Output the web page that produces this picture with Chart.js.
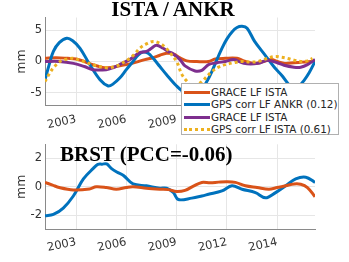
<!DOCTYPE html>
<html>
<head>
<meta charset="utf-8">
<script src="https://cdn.jsdelivr.net/npm/chart.js@4/dist/chart.umd.min.js"></script>
<style>
  html, body { margin: 0; padding: 0; background: #fff; }
  #wrap { position: relative; width: 349px; height: 262px; overflow: hidden; }
  canvas { position: absolute; left: 0; }
  #c-top { top: 0; }
  #c-bot { top: 131px; }
  .ttl {
    position: absolute; font-family: 'Liberation Serif', serif; font-weight: bold;
    font-size: 21px; line-height: 21px; color: #000; white-space: nowrap;
  }
  #ttl-top { top: -1.5px; left: 0; width: 346px; text-align: center; }
  #ttl-bot { top: 143.5px; left: 60px; }
  #legend {
    position: absolute; left: 181px; top: 83px; width: 158px; height: 52px;
    background: #fff; border: 1px solid #b0b0b0; box-sizing: border-box;
    font-family: 'DejaVu Sans', sans-serif; font-size: 10.4px; color: #262626;
    padding-top: 2px;
  }
  .lg-row { position: relative; height: 12.3px; line-height: 12.3px; white-space: nowrap; }
  .lg-line { position: absolute; left: 2px; top: 5px; width: 26px; height: 0; border-top: 3px solid; }
  .lg-text { position: absolute; left: 29px; top: 0; }
</style>
</head>
<body>
<div id="wrap">
  <canvas id="c-top" width="349" height="131"></canvas>
  <canvas id="c-bot" width="349" height="131"></canvas>
  <div class="ttl" id="ttl-top">ISTA / ANKR</div>
  <div class="ttl" id="ttl-bot">BRST (PCC=-0.06)</div>
  <div id="legend"></div>
</div>
<script>
'use strict';

// ── Data ───────────────────────────────────────────────────────
const X_TICKS       = [2003, 2006, 2009, 2012, 2015];
const X_TICK_LABELS = ['2003', '2006', '2009', '2012', '2014'];

// top panel: ISTA / ANKR
const graceIstaYears = [2001.15, 2001.8, 2002.5, 2003.0, 2003.5, 2004.0, 2004.5, 2004.9, 2005.4, 2006.0,
  2006.6, 2007.1, 2007.6, 2008.0, 2008.4, 2008.8, 2009.2, 2009.6, 2010.2, 2010.9, 2011.3, 2011.9,
  2012.6, 2013.0, 2013.65, 2014.2, 2014.65, 2015.0, 2015.45, 2016.0, 2016.5, 2017.0, 2017.25];
const graceIsta = [0.5, 0.6, 0.5, 0.4, 0.0, -0.5, -0.9, -1.0, -0.8, -0.5,
  -0.1, 0.3, 0.6, 1.0, 1.3, 1.2, 0.6, 0.1, 0.0, 0.0, 0.4, 0.5,
  0.5, 0.1, -0.3, 0.0, 0.3, 0.0, -0.3, -0.2, -0.1, 0.0, 0.1];

const gpsAnkrYears = [2001.15, 2001.4, 2001.65, 2002.0, 2002.45, 2002.8, 2003.24, 2003.8, 2004.43, 2004.92,
  2005.2, 2005.62, 2006.0, 2006.4, 2006.7, 2007.0, 2007.3, 2007.6, 2008.0, 2008.4, 2009.0, 2009.5,
  2010.0, 2010.4, 2010.8, 2011.1, 2011.4, 2011.7, 2012.0, 2012.3, 2012.6, 2012.9, 2013.2, 2013.65,
  2014.25, 2014.85, 2015.3, 2015.7, 2016.0, 2016.3, 2016.6, 2016.9, 2017.25];
const gpsAnkr = [-2.9, -0.5, 1.6, 3.0, 3.7, 3.3, 2.1, -0.4, -2.9, -3.9,
  -3.6, -2.6, -1.3, 0.0, 1.0, 1.5, 1.3, 0.5, -0.8, -2.1, -3.9, -5.0,
  -5.4, -4.8, -3.2, -1.6, 0.3, 2.1, 3.6, 4.7, 5.4, 5.6, 5.3, 3.2,
  1.1, -1.0, -2.3, -3.7, -4.4, -3.9, -3.0, -1.8, 0.0];

const graceIsta2Years = [2001.15, 2002.0, 2002.85, 2003.5, 2004.0, 2004.8, 2005.2, 2005.6, 2006.2, 2006.8,
  2007.2, 2007.5, 2007.8, 2008.2, 2008.5, 2008.8, 2009.2, 2009.5, 2010.1, 2010.5, 2010.9, 2011.4,
  2011.9, 2012.4, 2013.0, 2013.85, 2014.4, 2015.0, 2015.4, 2016.0, 2016.4, 2016.8, 2017.25];
const graceIsta2 = [0.0, 0.0, -0.3, -0.8, -1.3, -1.3, -1.0, -0.5, 0.3, 1.4,
  1.6, 2.1, 2.6, 2.1, 1.6, 1.2, 0.3, -0.7, -1.5, -1.4, -0.5, -0.2,
  0.0, 0.3, -0.3, -0.3, 0.2, -0.2, -0.6, -0.9, -0.9, -0.5, 0.3];

const gpsIstaYears = [2001.15, 2001.4, 2001.65, 2002.05, 2002.5, 2002.85, 2003.45, 2004.0, 2004.8, 2005.2,
  2005.6, 2006.2, 2006.5, 2006.8, 2007.2, 2007.6, 2008.0, 2008.3, 2008.6, 2009.0, 2009.3, 2009.6,
  2009.9, 2010.2, 2010.5, 2011.1, 2011.5, 2011.9, 2012.4, 2012.9, 2013.4, 2013.85, 2014.3, 2014.85,
  2015.2, 2015.6, 2016.0, 2016.4, 2016.8, 2017.1];
const gpsIsta = [-3.2, -2.0, -1.0, 0.0, 0.4, 0.5, 0.0, -0.5, -1.0, -0.9,
  -0.5, 0.5, 1.2, 2.1, 2.8, 3.2, 2.9, 2.3, 1.4, 0.0, -2.0, -3.1,
  -3.9, -3.7, -3.2, -1.6, -0.9, -0.5, -0.2, 0.0, -0.1, 0.0, 0.4, 0.8,
  0.7, 0.5, 0.2, 0.0, 0.1, 0.5];

// bottom panel: BRST
const gpsBrstYears = [2001.15, 2001.65, 2002.24, 2002.84, 2003.44, 2004.03, 2004.3, 2004.55, 2004.83, 2005.1,
  2005.43, 2005.83, 2006.4, 2007.2, 2008.0, 2008.4, 2008.8, 2009.1, 2009.9, 2010.5, 2010.9, 2011.7,
  2012.3, 2012.9, 2013.7, 2014.3, 2014.9, 2015.5, 2016.1, 2016.7, 2017.25];
const gpsBrst = [-2.05, -1.95, -1.5, -0.65, 0.56, 1.3, 1.58, 1.6, 1.62, 1.3,
  1.04, 0.8, 0.2, 0.07, -0.1, -0.1, -0.4, -0.9, -0.8, -0.65, -0.53, -0.29,
  0.07, -0.17, -0.41, -0.78, -0.41, 0.07, 0.56, 0.68, 0.31];

const graceBrstYears = [2001.15, 2001.6, 2002.0, 2002.84, 2003.8, 2004.2, 2004.8, 2005.4, 2006.0, 2006.4,
  2007.2, 2008.0, 2008.5, 2009.0, 2009.5, 2010.0, 2010.5, 2011.0, 2011.5, 2012.0, 2012.5, 2013.1,
  2013.8, 2014.5, 2015.0, 2015.5, 2016.0, 2016.4, 2016.8, 2017.25];
const graceBrst = [0.31, 0.12, -0.05, -0.22, -0.15, 0.0, -0.05, -0.17, -0.05, 0.0,
  -0.1, -0.17, -0.2, -0.33, -0.25, 0.05, 0.31, 0.28, 0.33, 0.36, 0.31, 0.07,
  -0.05, -0.17, -0.05, 0.07, 0.2, 0.18, -0.05, -0.7];

const LEGEND_LABELS = ['GRACE LF ISTA', 'GPS corr LF ANKR (0.12)', 'GRACE LF ISTA', 'GPS corr LF ISTA (0.61)'];

const C_ORANGE = '#D95319';
const C_BLUE   = '#0072BD';
const C_PURPLE = '#7E2F8E';
const C_YELLOW = '#EDB120';

const X_MIN = 2001.15;
const X_MAX = 2017.25;

// ── Helpers ────────────────────────────────────────────────────
const pts = (xs, ys) => xs.map((x, i) => ({ x, y: ys[i] }));

function line(data, color, order, dashed) {
  return {
    data,
    borderColor: color,
    backgroundColor: color,
    borderWidth: 3,
    borderDash: dashed ? [3, 3] : [],
    borderCapStyle: 'butt',
    pointRadius: 0,
    tension: 0.35,
    fill: false,
    order,
  };
}

function makeOptions(yMin, yMax, yTicks, xAxisH, tickPad) {
  return {
    responsive: false,
    animation: false,
    events: [],
    layout: { autoPadding: false, padding: { left: 0, right: 34, top: 0, bottom: 0 } },
    plugins: { legend: { display: false }, tooltip: { enabled: false }, title: { display: false } },
    scales: {
      x: {
        type: 'linear', min: X_MIN, max: X_MAX,
        afterBuildTicks: s => { s.ticks = X_TICKS.map(v => ({ value: v })); },
        afterFit: s => { s.height = xAxisH; },
        ticks: {
          minRotation: 12, maxRotation: 12, padding: tickPad,
          font: { family: 'DejaVu Sans', size: 11.5 }, color: '#333',
          callback: v => X_TICK_LABELS[X_TICKS.indexOf(v)],
        },
        grid: { color: '#e6e6e6', drawTicks: false },
        border: { color: '#8a8a8a', width: 1 },
      },
      y: {
        min: yMin, max: yMax,
        afterBuildTicks: s => { s.ticks = yTicks.map(v => ({ value: v })); },
        afterFit: s => { s.width = 45; },
        ticks: { padding: 3, font: { family: 'DejaVu Sans', size: 11.5 }, color: '#333' },
        grid: { color: '#e6e6e6', drawTicks: false },
        border: { color: '#8a8a8a', width: 1 },
        title: {
          display: true, text: 'mm', color: '#333',
          font: { family: 'DejaVu Sans', size: 12.5 }, padding: { top: 14, bottom: 0 },
        },
      },
    },
  };
}

// ── Charts ─────────────────────────────────────────────────────
const topOpts = makeOptions(-7, 7, [-5, 0, 5], 25.5, 7);
topOpts.layout.padding.top = 17.5;
new Chart(document.getElementById('c-top'), {
  type: 'line',
  data: {
    datasets: [
      line(pts(graceIstaYears, graceIsta), C_ORANGE, 4),
      line(pts(gpsAnkrYears, gpsAnkr), C_BLUE, 3),
      line(pts(graceIsta2Years, graceIsta2), C_PURPLE, 2),
      line(pts(gpsIstaYears, gpsIsta), C_YELLOW, 1, true),
    ],
  },
  options: topOpts,
});

const botOpts = makeOptions(-3, 3, [-2, 0, 2], 32.7, 6);
botOpts.layout.padding.top = 13.3;
new Chart(document.getElementById('c-bot'), {
  type: 'line',
  data: {
    datasets: [
      line(pts(gpsBrstYears, gpsBrst), C_BLUE, 2),
      line(pts(graceBrstYears, graceBrst), C_ORANGE, 1),
    ],
  },
  options: botOpts,
});

// ── Legend ─────────────────────────────────────────────────────
const legendColors = [C_ORANGE, C_BLUE, C_PURPLE, C_YELLOW];
document.getElementById('legend').innerHTML = LEGEND_LABELS.map((lbl, i) => `
  <div class="lg-row">
    <span class="lg-line" style="border-top-color:${legendColors[i]};${i === 3 ? 'border-top-style:dotted;' : ''}"></span>
    <span class="lg-text">${lbl}</span>
  </div>`).join('');
</script>
</body>
</html>
